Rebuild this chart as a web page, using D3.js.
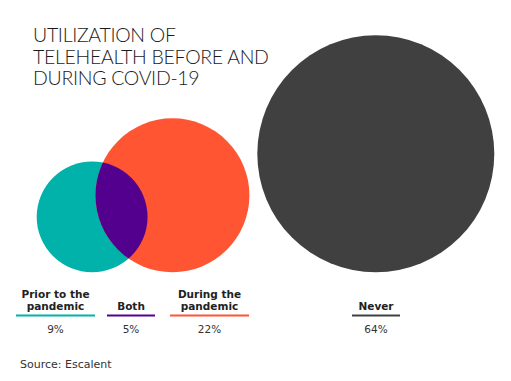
<!DOCTYPE html>
<html><head><meta charset="utf-8">
<script src="https://cdn.jsdelivr.net/npm/d3@7"></script>
<style>html,body{margin:0;padding:0;background:#fff;}svg{display:block;}</style>
</head><body><svg id="c" width="511" height="381"></svg>
<script>
const categories = ["Prior to the pandemic", "Both", "During the pandemic", "Never"];
const values = [9, 5, 22, 64];
const valueLabels = ["9%", "5%", "22%", "64%"];
const colors = ["#00B2A9", "#54008F", "#FF5533", "#404040"];
const titleLines = ["UTILIZATION OF", "TELEHEALTH BEFORE AND", "DURING COVID-19"];
const source = "Source: Escalent";

const svg = d3.select("#c");
const titleFont = "Lato, 'Open Sans', sans-serif";
const font = "'DejaVu Sans', sans-serif";

// radius scale: area proportional to share
const r = d3.scaleSqrt().domain([0, 64]).range([0, 118.5]);
const baseY = 272.3;

const prior = values[0] + values[1];
const during = values[2] + values[1];
const r1 = r(prior), r2 = r(during), r3 = r(values[3]);
const k = r(1) ** 2;
const targetOverlap = values[1] * Math.PI * k;

function lens(d) {
  if (d >= r1 + r2) return 0;
  if (d <= Math.abs(r1 - r2)) return Math.PI * Math.min(r1, r2) ** 2;
  const a = r1*r1*Math.acos((d*d + r1*r1 - r2*r2)/(2*d*r1));
  const b = r2*r2*Math.acos((d*d + r2*r2 - r1*r1)/(2*d*r2));
  const c = 0.5*Math.sqrt((-d+r1+r2)*(d+r1-r2)*(d-r1+r2)*(d+r1+r2));
  return a + b - c;
}
let lo = Math.abs(r1 - r2), hi = r1 + r2;
for (let i = 0; i < 60; i++) {
  const m = (lo + hi) / 2;
  if (lens(m) > targetOverlap) lo = m; else hi = m;
}
const dist = (lo + hi) / 2;
const c1 = {x: 36.7 + r1, y: baseY - r1};
const dy = r2 - r1;
const c2 = {x: c1.x + Math.sqrt(dist*dist - dy*dy), y: baseY - r2};
const c3 = {x: 257.3 + r3, y: baseY - r3};

svg.append("defs").append("clipPath").attr("id", "clipPrior")
  .append("circle").attr("cx", c1.x).attr("cy", c1.y).attr("r", r1);

svg.append("circle").attr("cx", c1.x).attr("cy", c1.y).attr("r", r1).attr("fill", colors[0]);
svg.append("circle").attr("cx", c2.x).attr("cy", c2.y).attr("r", r2).attr("fill", colors[2]);
svg.append("circle").attr("cx", c2.x).attr("cy", c2.y).attr("r", r2).attr("fill", colors[1])
  .attr("clip-path", "url(#clipPrior)");
svg.append("circle").attr("cx", c3.x).attr("cy", c3.y).attr("r", r3).attr("fill", colors[3]);

// title
titleLines.forEach((t, i) => {
  svg.append("text").attr("x", 33).attr("y", 42 + i * 21.6)
    .attr("font-family", titleFont).attr("font-weight", 300)
    .attr("font-size", 19.5).attr("letter-spacing", -0.3).attr("fill", "#1a1a1a").text(t);
});

// legend
const legend = [
  {x0: 16, x1: 95},
  {x0: 107, x1: 155},
  {x0: 170, x1: 249},
  {x0: 352, x1: 400}
];
const labelLines = [["Prior to the", "pandemic"], ["Both"], ["During the", "pandemic"], ["Never"]];
legend.forEach((L, i) => {
  const cx = (L.x0 + L.x1) / 2;
  svg.append("line").attr("x1", L.x0).attr("x2", L.x1).attr("y1", 315.5).attr("y2", 315.5)
    .attr("stroke", colors[i]).attr("stroke-width", 2.2);
  const lines = labelLines[i];
  lines.forEach((t, j) => {
    svg.append("text").attr("x", cx).attr("y", 309.5 - (lines.length - 1 - j) * 11.5)
      .attr("text-anchor", "middle").attr("font-family", font).attr("font-weight", "bold")
      .attr("font-size", 10.5).attr("fill", "#222").text(t);
  });
  svg.append("text").attr("x", cx).attr("y", 332.5).attr("text-anchor", "middle")
    .attr("font-family", font).attr("font-size", 10.5).attr("fill", "#333").text(valueLabels[i]);
});

svg.append("text").attr("x", 20).attr("y", 368).attr("font-family", font)
  .attr("font-size", 11).attr("fill", "#333").text(source);
</script></body></html>
